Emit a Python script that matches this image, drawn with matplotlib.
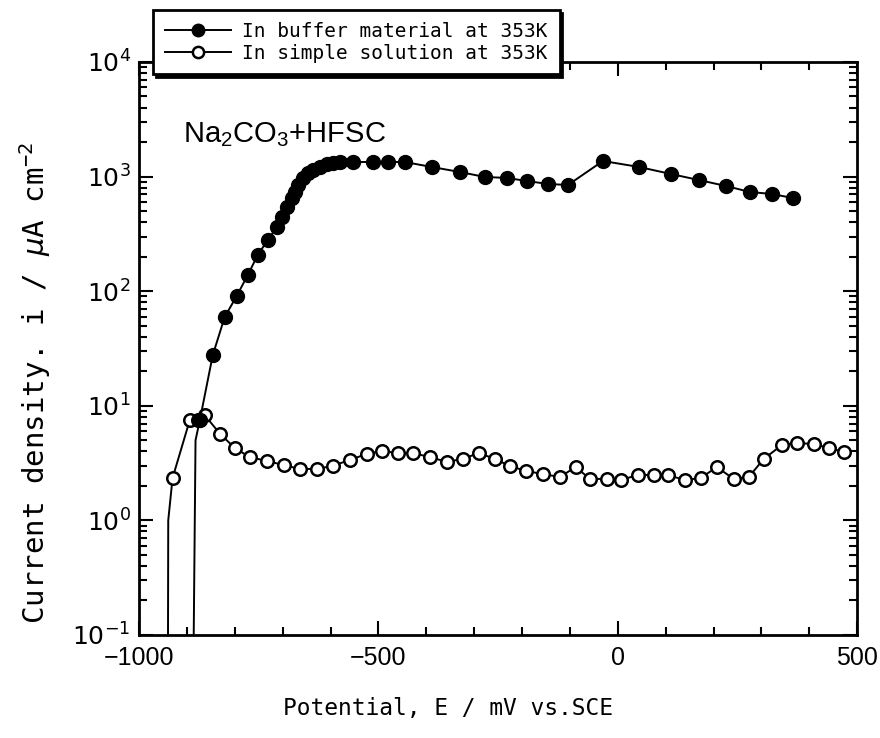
import numpy as np
import matplotlib
matplotlib.use("Agg")
import matplotlib.pyplot as plt
from matplotlib.ticker import MultipleLocator, LogLocator, NullFormatter

# buffer material (filled) -- first two vertices are the unmarked foot of the curve
E_buffer = [-888, -882, -873, -846, -821, -796, -773, -752, -731, -712, -702, -691,
            -681, -675, -668, -658, -648, -637, -623, -608, -595, -581, -554, -512,
            -480, -445, -389, -330, -278, -232, -190, -146, -104, -31, 44, 111,
            169, 226, 276, 322, 366]
i_buffer = [0.01, 5.0, 7.5, 27.7, 59.6, 90.8, 138, 207, 280, 363, 444, 543,
            650, 734, 845, 973, 1075, 1143, 1214, 1289, 1315, 1341, 1341, 1341,
            1341, 1341, 1214, 1097, 993, 973, 916, 862, 845, 1368, 1214, 1054,
            934, 828, 734, 705, 650]

# simple solution (open)
E_simple = [-940, -939, -930, -894, -877, -863, -831, -800, -769, -733, -698, -664,
            -629, -595, -560, -524, -493, -460, -428, -393, -357, -324, -290, -257,
            -226, -192, -157, -121, -88, -58, -23, 6, 42, 75, 104, 140,
            173, 207, 242, 274, 305, 343, 374, 409, 441, 472]
i_simple = [0.01, 1.0, 2.34, 7.5, 7.5, 8.3, 5.7, 4.28, 3.57, 3.30, 3.04, 2.81,
            2.81, 2.99, 3.37, 3.80, 4.04, 3.87, 3.87, 3.57, 3.24, 3.44, 3.87, 3.44,
            2.99, 2.70, 2.54, 2.39, 2.92, 2.30, 2.30, 2.25, 2.49, 2.49, 2.49, 2.25,
            2.34, 2.92, 2.30, 2.40, 3.44, 4.55, 4.73, 4.64, 4.28, 3.96]

labels = ["In buffer material at 353K", "In simple solution at 353K"]
xticks = [-1000, -500, 0, 500]
xticklabels = ["\u22121000", "\u2212500", "0", "500"]

mono = ["DejaVu Sans Mono"]
sans = ["Liberation Sans", "DejaVu Sans"]

fig = plt.figure(figsize=(8.8, 7.38), dpi=100)
ax = fig.add_axes([0.158, 0.1396, 0.816, 0.7764])

ax.plot(E_buffer, i_buffer, color="black", lw=1.4, marker="o", ms=10,
        mfc="black", mec="black", markevery=list(range(2, len(E_buffer))),
        label=labels[0], zorder=3)
ax.plot(E_simple, i_simple, color="black", lw=1.4, marker="o", ms=9,
        mfc="white", mec="black", mew=1.8, markevery=list(range(2, len(E_simple))),
        label=labels[1], zorder=2)

ax.set_yscale("log")
ax.set_xlim(-1000, 500)
ax.set_ylim(0.1, 1e4)

ax.xaxis.set_minor_locator(MultipleLocator(100))
ax.set_xticks(xticks)
ax.set_xticklabels(xticklabels, fontfamily=sans, fontsize=18)
ax.yaxis.set_major_locator(LogLocator(base=10, numticks=10))
ax.yaxis.set_minor_locator(LogLocator(base=10, subs=np.arange(2, 10), numticks=20))
ax.yaxis.set_minor_formatter(NullFormatter())

ax.tick_params(which="both", direction="in", top=True, right=True, width=1.5)
ax.tick_params(which="major", length=10)
ax.tick_params(which="minor", length=6)
ax.tick_params(axis="x", which="major", pad=8)
ax.tick_params(axis="y", which="major", labelsize=18, pad=6)

for s in ax.spines.values():
    s.set_linewidth(2)

ax.text(0.061, 0.873, r"Na$\mathregular{_2}$CO$\mathregular{_3}$+HFSC", transform=ax.transAxes,
        fontfamily=sans, fontsize=21, va="center", ha="left")

fig.text(35 / 880, 1 - 383 / 738, r"Current density. i / $\mu$A cm$\mathregular{^{-2}}$",
         rotation=90, ha="center", va="center", fontfamily=mono, fontsize=21)
fig.text(448 / 880, 1 - 708 / 738, "Potential, E / mV vs.SCE",
         ha="center", va="center", fontfamily=mono, fontsize=16.5)

leg = ax.legend(loc="upper left", bbox_to_anchor=(153 / 880, 1 - 10 / 738),
                bbox_transform=fig.transFigure, prop={"family": mono[0], "size": 14},
                frameon=True, fancybox=False, shadow={"color": "black", "alpha": 1},
                edgecolor="black", framealpha=1, handlelength=3.4, handletextpad=0.6,
                labelspacing=0.15, borderpad=0.6, borderaxespad=0, markerscale=0.9)
leg.get_frame().set_linewidth(2)
leg.set_zorder(10)

fig.savefig("out.png", dpi=100)
